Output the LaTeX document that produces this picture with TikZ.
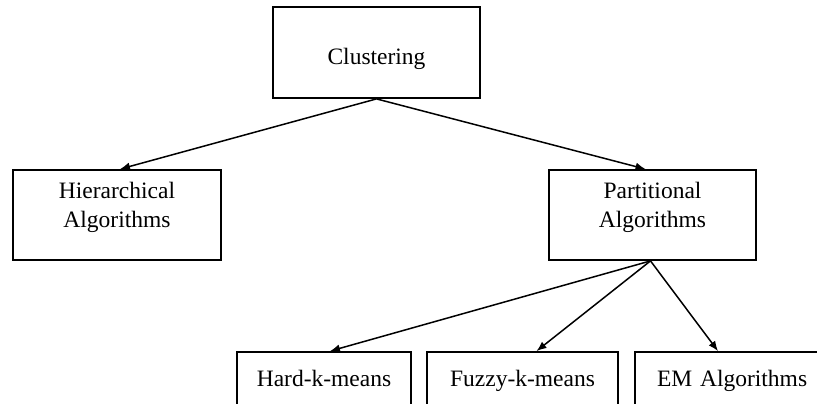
\documentclass[tikz,border=0pt]{standalone}
\usepackage{fontspec}
\setmainfont{Liberation Serif}
\usetikzlibrary{arrows.meta}

\begin{document}
\begin{tikzpicture}[x=1pt,y=-1pt,
  box/.style={draw,line width=1.8pt,align=center,inner sep=0pt,
    font=\fontsize{23.5}{29}\selectfont},
  leaf/.style={box,minimum height=58pt,text height=16pt,text depth=5pt},
  edge/.style={-{Latex[length=10pt,width=8pt]},line width=1.5pt}]
\useasboundingbox (0,0) rectangle (817,404);
\fill[white] (0,0) rectangle (817,404);

\node[box,minimum width=207pt,minimum height=91pt,text height=30pt,text depth=5pt] (clust) at (376.5,52.5) {Clustering};
\node[box,minimum width=208pt,minimum height=90pt,text depth=21pt] (hier) at (117,215) {Hierarchical\\Algorithms};
\node[box,minimum width=207pt,minimum height=90pt,text depth=21pt] (part) at (652.5,215) {Partitional\\Algorithms};

\node[leaf,minimum width=174pt] (hard) at (324,381) {Hard-k-means};
\node[leaf,minimum width=191pt] (fuzzy) at (522.5,381) {Fuzzy-k-means};
\node[leaf,minimum width=230pt,text width=210pt,align=left] (em) at (750,381) {\hspace*{12pt}EM Algorithms};

\draw[edge] (clust.south) -- ([xshift=3pt]hier.north);
\draw[edge] (clust.south) -- ([xshift=-7pt]part.north);
\draw[edge] ([xshift=-2pt]part.south) -- ([xshift=6pt]hard.north);
\draw[edge] ([xshift=-2pt]part.south) -- ([xshift=14pt]fuzzy.north);
\draw[edge] ([xshift=-2pt]part.south) -- ([xshift=-32pt]em.north);
\end{tikzpicture}
\end{document}
